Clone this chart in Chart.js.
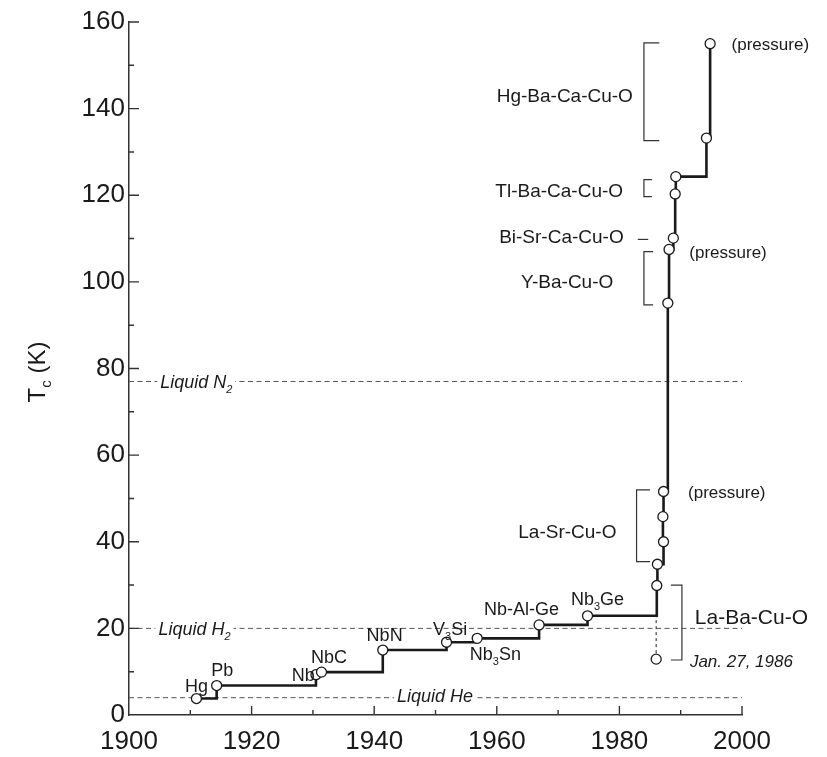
<!DOCTYPE html>
<html>
<head>
<meta charset="utf-8">
<script src="https://cdn.jsdelivr.net/npm/chart.js@4.4.1/dist/chart.umd.min.js"></script>
<style>
  html, body { margin: 0; padding: 0; background: #fff; }
</style>
</head>
<body>
<canvas id="tcChart" width="827" height="757"></canvas>
<script>
// Record superconducting transition temperature by year of discovery
const materials = ['Hg', 'Pb', 'Nb', 'NbC', 'NbN', 'V3Si', 'Nb3Sn', 'Nb-Al-Ge', 'Nb3Ge',
  'La-Ba-Cu-O', 'La-Sr-Cu-O', 'La-Sr-Cu-O', 'La-Sr-Cu-O', 'La-Sr-Cu-O (pressure)',
  'Y-Ba-Cu-O', 'Y-Ba-Cu-O (pressure)', 'Bi-Sr-Ca-Cu-O', 'Tl-Ba-Ca-Cu-O', 'Tl-Ba-Ca-Cu-O',
  'Hg-Ba-Ca-Cu-O', 'Hg-Ba-Ca-Cu-O (pressure)'];
const years = [1911, 1914.3, 1930.5, 1931.4, 1941.4, 1951.8, 1956.8, 1966.9, 1974.8,
  1986.1, 1986.2, 1987.2, 1987.1, 1987.2,
  1987.9, 1988.1, 1988.8, 1989.1, 1989.2,
  1994.2, 1994.8];
const tc = [3.8, 6.8, 9.3, 9.9, 15, 16.8, 17.7, 20.8, 22.9,
  29.9, 34.8, 40, 45.8, 51.6,
  95.1, 107.5, 110.1, 120.3, 124.3,
  133.2, 155];

// first La-Ba-Cu-O report, Jan. 27, 1986
const jan86Year = 1986.0;
const jan86Tc = 12.9;

// boiling points of the coolants
const coolants = ['He', 'H2', 'N2'];
const coolantTemps = [4, 20, 77];

const xTickLabels = [1900, 1920, 1940, 1960, 1980, 2000];
const yTickLabels = [0, 20, 40, 60, 80, 100, 120, 140, 160];

const FONT = '"Liberation Sans", Arial, Helvetica, sans-serif';
const INK = '#1a1a1a';

// text with subscripts: strings are normal, {sub: '3'} is lowered and smaller
function drawRich(ctx, parts, x, y, align, size, italic, bg) {
  const style = italic ? 'italic ' : '';
  const main = style + size + 'px ' + FONT;
  const small = style + Math.round(size * 0.62) + 'px ' + FONT;
  let w = 0;
  parts.forEach(p => {
    ctx.font = typeof p === 'string' ? main : small;
    w += ctx.measureText(typeof p === 'string' ? p : p.sub).width;
  });
  let cx = align === 'right' ? x - w : align === 'center' ? x - w / 2 : x;
  if (bg) {
    ctx.fillStyle = '#fff';
    ctx.fillRect(cx - 3, y - size * 0.6, w + 6, size * 1.25);
  }
  ctx.fillStyle = INK;
  ctx.textAlign = 'left';
  ctx.textBaseline = 'middle';
  parts.forEach(p => {
    if (typeof p === 'string') {
      ctx.font = main;
      ctx.fillText(p, cx, y);
      cx += ctx.measureText(p).width;
    } else {
      ctx.font = small;
      ctx.fillText(p.sub, cx, y + size * 0.38);
      cx += ctx.measureText(p.sub).width;
    }
  });
}

// labels placed in data units (year, K)
const labels = [
  { parts: ['Hg'], x: 1912.9, y: 6.5, align: 'right', size: 18 },
  { parts: ['Pb'], x: 1913.4, y: 10.2, align: 'left', size: 18 },
  { parts: ['Nb'], x: 1930.3, y: 9.0, align: 'right', size: 18 },
  { parts: ['NbC'], x: 1929.7, y: 13.2, align: 'left', size: 18 },
  { parts: ['NbN'], x: 1941.7, y: 18.2, align: 'center', size: 18 },
  { parts: ['V', { sub: '3' }, 'Si'], x: 1949.6, y: 19.6, align: 'left', size: 18 },
  { parts: ['Nb', { sub: '3' }, 'Sn'], x: 1955.6, y: 13.9, align: 'left', size: 18 },
  { parts: ['Nb-Al-Ge'], x: 1957.9, y: 24.2, align: 'left', size: 18 },
  { parts: ['Nb', { sub: '3' }, 'Ge'], x: 1972.1, y: 26.6, align: 'left', size: 18 },
  { parts: ['Hg-Ba-Ca-Cu-O'], x: 1982.2, y: 142.8, align: 'right', size: 19 },
  { parts: ['Tl-Ba-Ca-Cu-O'], x: 1980.6, y: 120.9, align: 'right', size: 19 },
  { parts: ['Bi-Sr-Ca-Cu-O'], x: 1980.7, y: 110.1, align: 'right', size: 19 },
  { parts: ['Y-Ba-Cu-O'], x: 1979.0, y: 99.8, align: 'right', size: 19 },
  { parts: ['La-Sr-Cu-O'], x: 1963.5, y: 42.0, align: 'left', size: 19 },
  { parts: ['La-Ba-Cu-O'], x: 1992.3, y: 22.3, align: 'left', size: 21 },
  { parts: ['Jan. 27, 1986'], x: 1991.5, y: 12.2, align: 'left', size: 17, italic: true },
  { parts: ['(pressure)'], x: 1998.3, y: 154.7, align: 'left', size: 17 },
  { parts: ['(pressure)'], x: 1991.4, y: 106.6, align: 'left', size: 17 },
  { parts: ['(pressure)'], x: 1991.2, y: 51.2, align: 'left', size: 17 },
  { parts: ['Liquid N', { sub: '2' }], x: 1905.1, y: 76.7, align: 'left', size: 18, italic: true, bg: true },
  { parts: ['Liquid H', { sub: '2' }], x: 1904.8, y: 19.6, align: 'left', size: 18, italic: true, bg: true },
  { parts: ['Liquid He'], x: 1943.7, y: 4.2, align: 'left', size: 18, italic: true, bg: true }
];

// brackets: spine at x1, arms reaching to x2, from yTop to yBot
const brackets = [
  { x1: 1984.0, x2: 1986.5, yTop: 155.2, yBot: 132.6 },
  { x1: 1984.0, x2: 1985.3, yTop: 123.6, yBot: 119.7 },
  { x1: 1983.0, x2: 1984.7, yTop: 109.8, yBot: 109.8 },
  { x1: 1984.0, x2: 1985.5, yTop: 107.0, yBot: 94.7 },
  { x1: 1982.8, x2: 1985.0, yTop: 52.0, yBot: 35.4 },
  { x1: 1990.2, x2: 1988.4, yTop: 30.0, yBot: 12.7 }
];

const annotationPlugin = {
  id: 'annotations',
  afterDatasetsDraw(chart) {
    const { ctx, scales: { x, y } } = chart;
    ctx.save();

    // brackets
    ctx.strokeStyle = '#333';
    ctx.lineWidth = 1.2;
    brackets.forEach(b => {
      const sx = x.getPixelForValue(b.x1), ax = x.getPixelForValue(b.x2);
      const t = y.getPixelForValue(b.yTop), bt = y.getPixelForValue(b.yBot);
      ctx.beginPath();
      if (t === bt) {
        ctx.moveTo(sx, t);
        ctx.lineTo(ax, t);
      } else {
        ctx.moveTo(ax, t);
        ctx.lineTo(sx, t);
        ctx.lineTo(sx, bt);
        ctx.lineTo(ax, bt);
      }
      ctx.stroke();
    });

    labels.forEach(l => {
      drawRich(ctx, l.parts, x.getPixelForValue(l.x), y.getPixelForValue(l.y),
        l.align, l.size, l.italic, l.bg);
    });

    // inward tick marks
    ctx.strokeStyle = '#333';
    ctx.lineWidth = 1.4;
    const bottom = y.getPixelForValue(0);
    const left = x.getPixelForValue(1900);
    ctx.beginPath();
    xTickLabels.forEach((v, i) => {
      if (i > 0) {
        const px = x.getPixelForValue(v);
        ctx.moveTo(px, bottom); ctx.lineTo(px, bottom - 9);
        const mx = x.getPixelForValue(v - 10);
        ctx.moveTo(mx, bottom); ctx.lineTo(mx, bottom - 5);
      }
    });
    yTickLabels.forEach((v, i) => {
      if (i > 0) {
        const py = y.getPixelForValue(v);
        ctx.moveTo(left, py); ctx.lineTo(left + 10, py);
        const my = y.getPixelForValue(v - 10);
        ctx.moveTo(left, my); ctx.lineTo(left + 5, my);
      }
    });
    ctx.stroke();

    // y axis title T_c (K)
    ctx.translate(38, 372);
    ctx.rotate(-Math.PI / 2);
    drawRich(ctx, ['T', { sub: 'c' }, ' (K)'], 0, 0, 'center', 24, false, false);
    ctx.restore();
  }
};

const coolantSets = coolants.map((name, i) => ({
  label: 'Liquid ' + name,
  data: [{ x: 1900, y: coolantTemps[i] }, { x: 2000, y: coolantTemps[i] }],
  borderColor: '#555',
  borderWidth: 1,
  borderDash: [5, 3.5],
  pointRadius: 0,
  order: 2
}));

new Chart(document.getElementById('tcChart'), {
  type: 'line',
  data: {
    datasets: [
      {
        label: 'Tc record',
        data: years.map((yr, i) => ({ x: yr, y: tc[i] })),
        stepped: true,
        borderColor: INK,
        borderWidth: 2.6,
        pointRadius: 5,
        pointBackgroundColor: '#fff',
        pointBorderColor: INK,
        pointBorderWidth: 1.3,
        order: 0
      },
      {
        label: 'Jan. 27, 1986',
        data: [{ x: jan86Year, y: jan86Tc }, { x: jan86Year, y: tc[8] }],
        borderColor: '#444',
        borderWidth: 1.2,
        borderDash: [3, 3],
        pointRadius: [5, 0],
        pointBackgroundColor: '#fff',
        pointBorderColor: INK,
        pointBorderWidth: 1.3,
        order: 1
      },
      ...coolantSets
    ]
  },
  options: {
    responsive: false,
    animation: false,
    events: [],
    layout: { padding: { left: 60, right: 85, top: 22, bottom: 0 } },
    plugins: {
      legend: { display: false },
      tooltip: { enabled: false }
    },
    scales: {
      x: {
        type: 'linear',
        min: 1900,
        max: 2000,
        afterBuildTicks: scale => { scale.ticks = xTickLabels.map(v => ({ value: v })); },
        afterFit: scale => { scale.height = 42; },
        grid: { drawOnChartArea: false, drawTicks: false },
        border: { color: '#333', width: 1.5 },
        ticks: {
          color: INK,
          padding: 11,
          maxRotation: 0,
          font: { family: FONT, size: 26 },
          callback: v => String(v)
        }
      },
      y: {
        type: 'linear',
        min: 0,
        max: 160,
        afterBuildTicks: scale => { scale.ticks = yTickLabels.map(v => ({ value: v })); },
        afterFit: scale => { scale.width = 69; },
        grid: { drawOnChartArea: false, drawTicks: false },
        border: { color: '#333', width: 1.5 },
        ticks: {
          color: INK,
          padding: 4,
          font: { family: FONT, size: 26 },
          callback: v => String(v)
        }
      }
    }
  },
  plugins: [annotationPlugin]
});
</script>
</body>
</html>
